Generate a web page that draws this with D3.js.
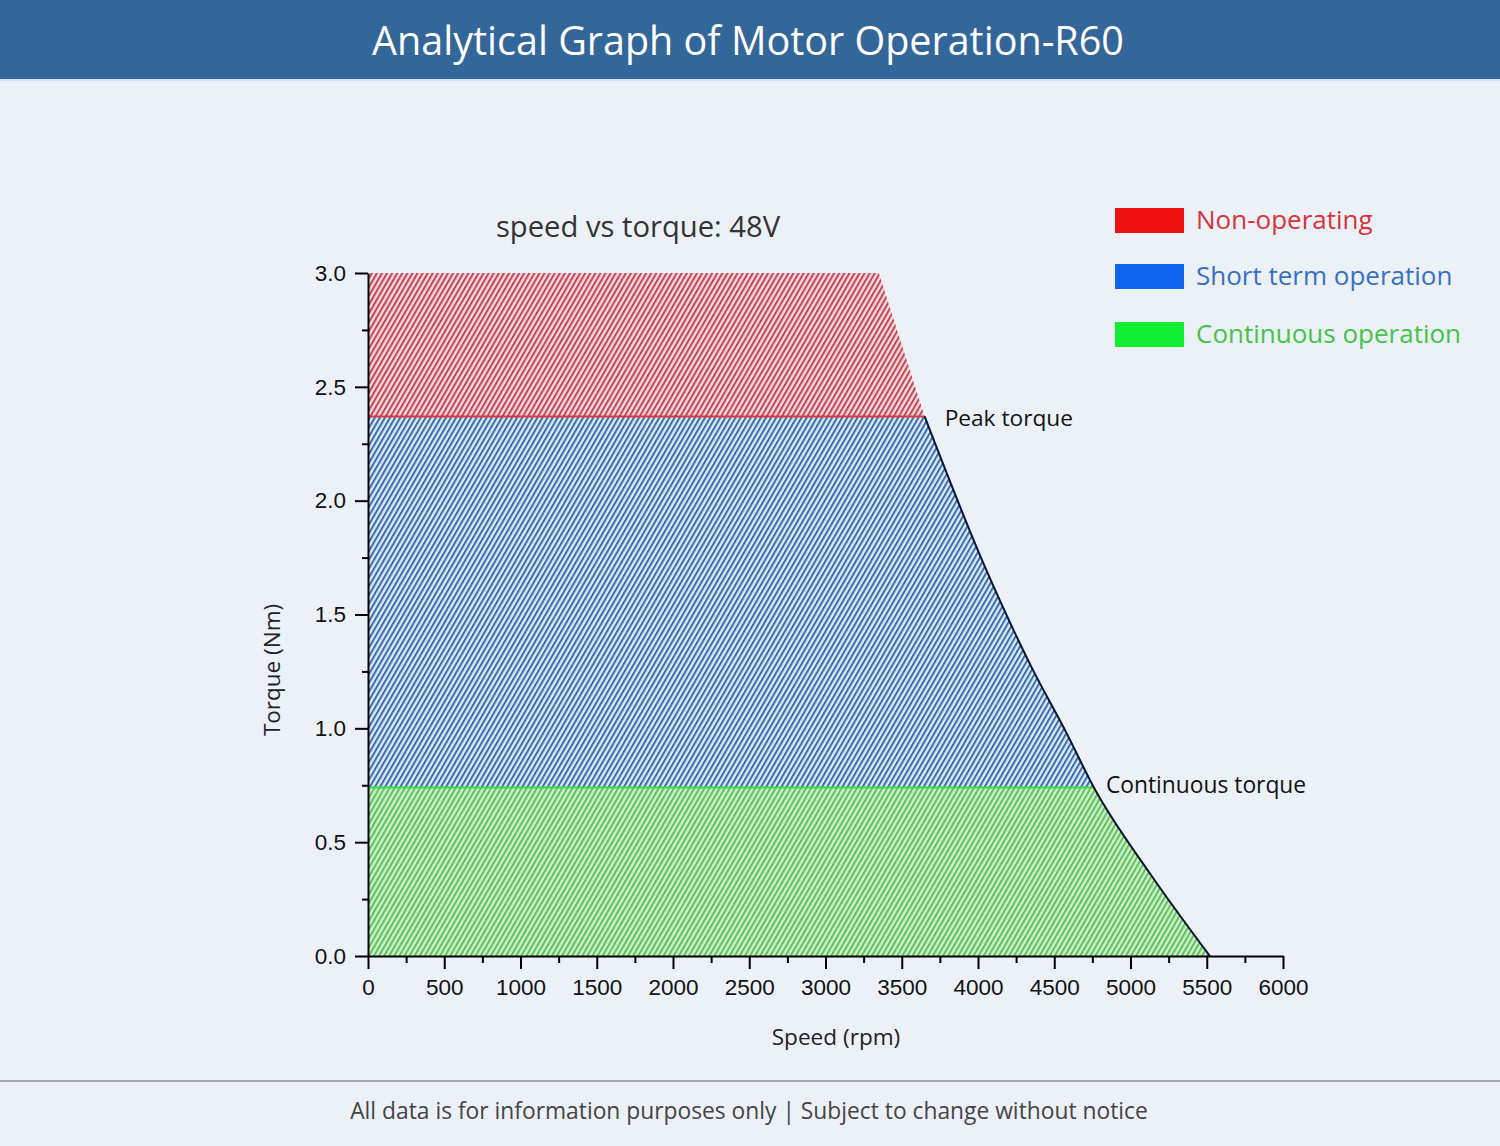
<!DOCTYPE html>
<html>
<head>
<meta charset="utf-8">
<style>
	html, body {
		margin: 0;
		padding: 0;
		background: #ecf1f8;
	}

	text {
		font-family: "Open Sans", sans-serif;
	}

	.tick text {
		font-family: "Liberation Sans", Arial, sans-serif;
		font-size: 22.5px;
		fill: #111;
	}

	.axis path, .axis line {
		stroke: #000;
		stroke-width: 2px;
	}
</style>
</head>
<body>
<div id="chart-container"></div>

<script src="https://d3js.org/d3.v7.min.js"></script>
<script>
	// values
	const speedTicks = [0, 500, 1000, 1500, 2000, 2500, 3000, 3500, 4000, 4500, 5000, 5500, 6000];
	const torqueTicks = [0.0, 0.5, 1.0, 1.5, 2.0, 2.5, 3.0];

	// flat top of the chart area, ends where it starts to fall
	const topSpeed = [0, 3350];
	const topTorque = [3.0, 3.0];

	// torque/speed envelope from peak torque down to zero (rpm, Nm)
	const curveSpeed = [3650, 4045, 4350, 4580, 4760, 5130, 5520];
	const curveTorque = [2.37, 1.71, 1.27, 0.98, 0.74, 0.36, 0.0];

	const peakTorque = 2.37;
	const contTorque = 0.74;

	const regionNames = ["Non-operating", "Short term operation", "Continuous operation"];
	const regionTop = [3.0, peakTorque, contTorque];
	const regionBottom = [peakTorque, contTorque, 0.0];

	const W = 1500, H = 1146;

	const svg = d3.select("#chart-container")
		.append("svg")
		.attr("width", W)
		.attr("height", H)
		.style("display", "block");

	// hatch patterns
	const hatch = [
		{ id: "hatch-red", bg: "#fbd9dc", line: "#c04656" },
		{ id: "hatch-blue", bg: "#d8ecfb", line: "#3b6bae" },
		{ id: "hatch-green", bg: "#cdf2c6", line: "#5fc063" }
	];
	const defs = svg.append("defs");
	hatch.forEach(h => {
		const p = defs.append("pattern")
			.attr("id", h.id)
			.attr("patternUnits", "userSpaceOnUse")
			.attr("width", 4.4)
			.attr("height", 10)
			.attr("patternTransform", "rotate(30)");
		p.append("rect").attr("width", 4.4).attr("height", 10).attr("fill", h.bg);
		p.append("rect").attr("x", 0).attr("width", 2).attr("height", 10).attr("fill", h.line);
	});

	// header
	svg.append("rect").attr("width", W).attr("height", 79).attr("fill", "#336699");
	svg.append("rect").attr("y", 79).attr("width", W).attr("height", 2).attr("fill", "#cfe6f5");
	svg.append("text")
		.attr("x", 748)
		.attr("y", 55)
		.attr("text-anchor", "middle")
		.attr("fill", "#fff")
		.style("font-size", "39.5px")
		.text("Analytical Graph of Motor Operation-R60");

	// footer
	svg.append("rect").attr("y", 1080).attr("width", W).attr("height", 2).attr("fill", "#a8acb2");
	svg.append("text")
		.attr("x", 749)
		.attr("y", 1119)
		.attr("text-anchor", "middle")
		.attr("fill", "#444")
		.style("font-size", "22.8px")
		.text("All data is for information purposes only | Subject to change without notice");

	// scales
	const x = d3.scaleLinear().domain([0, 6000]).range([368, 1283]);
	const y = d3.scaleLinear().domain([0, 3]).range([956, 273]);

	const curvePts = curveSpeed.map((s, i) => ({ s: s, t: curveTorque[i] }));
	const topPts = topSpeed.map((s, i) => ({ s: s, t: topTorque[i] }));

	const smooth = d3.line().curve(d3.curveMonotoneX).x(d => x(d.s)).y(d => y(d.t));
	const straight = d3.line().x(d => x(d.s)).y(d => y(d.t));

	// outline of the whole operating envelope, used to clip the bands
	const envelope = "M" + x(0) + "," + y(0)
		+ straight(topPts).replace("M", "L")
		+ smooth(curvePts).replace("M", "L") + "Z";

	defs.append("clipPath").attr("id", "env-clip")
		.append("path").attr("d", envelope);

	const fills = ["url(#hatch-red)", "url(#hatch-blue)", "url(#hatch-green)"];
	const bands = svg.append("g").attr("clip-path", "url(#env-clip)");
	regionTop.forEach((top, i) => {
		bands.append("rect")
			.attr("x", x(0))
			.attr("y", y(top))
			.attr("width", x(6000) - x(0))
			.attr("height", y(regionBottom[i]) - y(top))
			.attr("fill", fills[i]);
	});

	// region boundary lines
	bands.append("line")
		.attr("x1", x(0)).attr("x2", x(6000))
		.attr("y1", y(peakTorque)).attr("y2", y(peakTorque))
		.attr("stroke", "#e5323f").attr("stroke-width", 2);
	bands.append("line")
		.attr("x1", x(0)).attr("x2", x(6000))
		.attr("y1", y(contTorque)).attr("y2", y(contTorque))
		.attr("stroke", "#3fd84a").attr("stroke-width", 2);

	// envelope below peak torque
	svg.append("path")
		.attr("fill", "none")
		.attr("stroke", "#0d1230")
		.attr("stroke-width", 2)
		.attr("d", smooth(curvePts));

	// minor ticks
	svg.append("g")
		.attr("class", "axis")
		.attr("transform", "translate(0,956)")
		.call(d3.axisBottom(x).tickValues(speedTicks.slice(1).map(v => v - 250)).tickSize(7).tickFormat(""))
		.select(".domain").remove();
	svg.append("g")
		.attr("class", "axis")
		.attr("transform", "translate(368,0)")
		.call(d3.axisLeft(y).tickValues(torqueTicks.slice(1).map(v => v - 0.25)).tickSize(6).tickFormat(""))
		.select(".domain").remove();

	// major axes
	svg.append("g")
		.attr("class", "axis")
		.attr("transform", "translate(0,956)")
		.call(d3.axisBottom(x).tickValues(speedTicks).tickSize(13).tickSizeOuter(0).tickPadding(10).tickFormat(d3.format("d")));
	svg.append("g")
		.attr("class", "axis")
		.attr("transform", "translate(368,0)")
		.call(d3.axisLeft(y).tickValues(torqueTicks).tickSize(13).tickSizeOuter(0).tickPadding(9).tickFormat(d3.format(".1f")));

	// titles
	svg.append("text")
		.attr("x", 638)
		.attr("y", 237)
		.attr("text-anchor", "middle")
		.attr("fill", "#333")
		.style("font-size", "29.2px")
		.text("speed vs torque: 48V");

	svg.append("text")
		.attr("x", 836)
		.attr("y", 1045)
		.attr("text-anchor", "middle")
		.attr("fill", "#222")
		.style("font-size", "22.6px")
		.text("Speed (rpm)");

	svg.append("text")
		.attr("transform", "translate(280,670) rotate(-90)")
		.attr("text-anchor", "middle")
		.attr("fill", "#222")
		.style("font-size", "22.5px")
		.text("Torque (Nm)");

	// annotations
	svg.append("text")
		.attr("x", x(curveSpeed[0]) + 20)
		.attr("y", y(peakTorque) + 10)
		.attr("fill", "#111")
		.style("font-size", "22.7px")
		.text("Peak torque");
	svg.append("text")
		.attr("x", x(curveSpeed[4]) + 12)
		.attr("y", y(contTorque) + 5)
		.attr("fill", "#111")
		.style("font-size", "22.8px")
		.text("Continuous torque");

	// legend
	const swatch = ["#ee1111", "#1166ee", "#11ee33"];
	const legendText = ["#d9333b", "#3670c8", "#44c444"];
	const legendY = [220, 276, 334];
	regionNames.forEach((name, i) => {
		svg.append("rect")
			.attr("x", 1115).attr("y", legendY[i] - 12)
			.attr("width", 69).attr("height", 25)
			.attr("fill", swatch[i]);
		svg.append("text")
			.attr("x", 1196).attr("y", legendY[i] + 9)
			.attr("fill", legendText[i])
			.style("font-size", "26px")
			.text(name);
	});
</script>
</body>
</html>
